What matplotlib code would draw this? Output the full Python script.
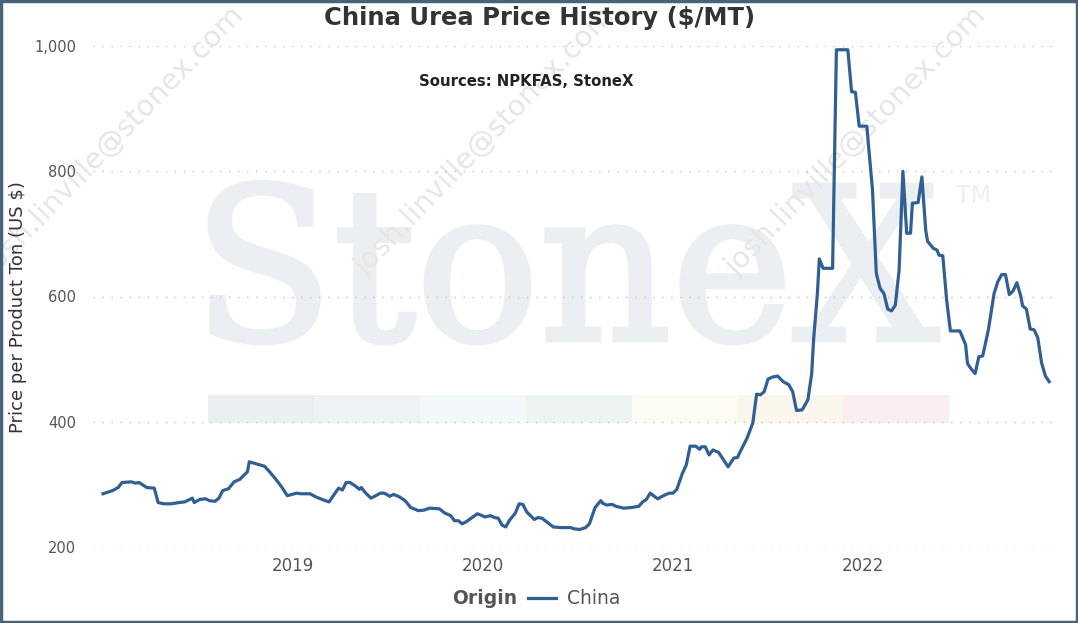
import matplotlib
matplotlib.use("Agg")
import matplotlib.pyplot as plt
from matplotlib.textpath import TextPath
from matplotlib.font_manager import FontProperties
from matplotlib.patches import PathPatch, Rectangle
from matplotlib.lines import Line2D
from matplotlib.path import Path
from matplotlib.ticker import FuncFormatter

# ---------------- data (weekly) ----------------
years = [
    2018.00, 2018.03, 2018.05, 2018.08, 2018.10, 2018.15, 2018.17, 2018.19, 2018.23, 2018.27,
    2018.29, 2018.32, 2018.36, 2018.40, 2018.43, 2018.47, 2018.48, 2018.51, 2018.54, 2018.56,
    2018.59, 2018.61, 2018.63, 2018.66, 2018.69, 2018.72, 2018.76, 2018.77, 2018.84, 2018.85,
    2018.88, 2018.91, 2018.94, 2018.97, 2019.02, 2019.04, 2019.09, 2019.12, 2019.17, 2019.19,
    2019.21, 2019.24, 2019.26, 2019.28, 2019.30, 2019.33, 2019.35, 2019.36, 2019.38, 2019.41,
    2019.43, 2019.46, 2019.48, 2019.51, 2019.53, 2019.56, 2019.59, 2019.62, 2019.66, 2019.69,
    2019.72, 2019.77, 2019.80, 2019.83, 2019.85, 2019.87, 2019.89, 2019.91, 2019.97, 2019.98,
    2020.01, 2020.04, 2020.06, 2020.08, 2020.10, 2020.12, 2020.14, 2020.17, 2020.19, 2020.21,
    2020.23, 2020.27, 2020.29, 2020.31, 2020.34, 2020.37, 2020.41, 2020.46, 2020.48, 2020.51,
    2020.54, 2020.56, 2020.59, 2020.62, 2020.63, 2020.65, 2020.68, 2020.70, 2020.74, 2020.78,
    2020.82, 2020.84, 2020.86, 2020.88, 2020.91, 2020.92, 2020.95, 2020.98, 2021.00, 2021.02,
    2021.05, 2021.07, 2021.09, 2021.12, 2021.14, 2021.15, 2021.17, 2021.19, 2021.21, 2021.24,
    2021.26, 2021.29, 2021.32, 2021.34, 2021.35, 2021.39, 2021.42, 2021.44, 2021.46, 2021.48,
    2021.50, 2021.52, 2021.55, 2021.58, 2021.61, 2021.63, 2021.65, 2021.68, 2021.71, 2021.73,
    2021.74, 2021.76, 2021.77, 2021.79, 2021.84, 2021.86, 2021.92, 2021.94, 2021.96, 2021.98,
    2022.02, 2022.05, 2022.07, 2022.09, 2022.11, 2022.13, 2022.15, 2022.17, 2022.19, 2022.21,
    2022.23, 2022.25, 2022.26, 2022.29, 2022.31, 2022.33, 2022.34, 2022.37, 2022.39, 2022.40,
    2022.42, 2022.44, 2022.46, 2022.51, 2022.54, 2022.55, 2022.57, 2022.59, 2022.61, 2022.63,
    2022.66, 2022.69, 2022.71, 2022.73, 2022.75, 2022.77, 2022.79, 2022.81, 2022.83, 2022.84,
    2022.86, 2022.88, 2022.90, 2022.92, 2022.94, 2022.96, 2022.98,
]
china_price = [
    285, 288, 290, 295, 303, 304, 302, 303, 295, 294,
    271, 269, 269, 271, 272, 278, 271, 276, 277, 274,
    273, 278, 290, 293, 304, 308, 320, 336, 330, 329,
    319, 308, 296, 282, 286, 285, 285, 280, 274, 272,
    281, 294, 291, 303, 303, 297, 292, 295, 287, 278,
    281, 286, 286, 281, 284, 280, 274, 263, 258, 259,
    262, 261, 254, 250, 242, 242, 237, 240, 253, 252,
    248, 250, 247, 246, 235, 232, 243, 254, 269, 268,
    256, 244, 247, 246, 239, 232, 231, 231, 229, 228,
    231, 237, 263, 274, 270, 267, 268, 265, 262, 263,
    265, 272, 276, 286, 279, 277, 282, 286, 286, 292,
    318, 331, 361, 361, 356, 360, 360, 347, 355, 351,
    342, 328, 342, 343, 350, 374, 398, 444, 443, 448,
    468, 471, 473, 464, 459, 448, 418, 419, 435, 477,
    531, 605, 660, 645, 645, 994, 994, 927, 926, 872,
    872, 770, 637, 613, 605, 580, 577, 586, 642, 800,
    701, 701, 749, 750, 791, 706, 688, 677, 674, 666,
    665, 595, 545, 545, 523, 493, 484, 477, 504, 505,
    547, 605, 624, 635, 635, 603, 609, 622, 601, 585,
    580, 548, 547, 534, 494, 473, 464,
]
year_ticks = [2019, 2020, 2021, 2022]
price_ticks = [200, 400, 600, 800, 1000]

W, H = 1078, 623
LINE_COLOR = "#305f94"
WM_COLOR = "#eceff2"


def fx(px):
    return px / W


def fy(py):
    return 1 - py / H


fig = plt.figure(figsize=(W / 100, H / 100), dpi=100)
fig.patch.set_facecolor("white")
ax = fig.add_axes([fx(93), fy(547), (1058 - 93) / W, (547 - 46) / H])
ax.set_facecolor("none")

# ---------- watermark: big StoneX logo ----------
serif = FontProperties(family="DejaVu Serif")
tp = TextPath((0, 0), "StoneX", size=1, prop=serif)
cap = TextPath((0, 0), "X", size=1, prop=serif).get_extents().ymax
ext = tp.get_extents()
sx = (938 - 210) / (ext.xmax - ext.xmin)
sy = (340 - 185) / cap
verts = tp.vertices.copy()
verts[:, 0] = fx(210 + (verts[:, 0] - ext.xmin) * sx)
verts[:, 1] = fy(340 - verts[:, 1] * sy)
logo = PathPatch(Path(verts, tp.codes), facecolor=WM_COLOR, edgecolor=WM_COLOR, lw=3.5,
                 joinstyle="miter", transform=fig.transFigure, clip_on=False, zorder=0.2)
ax.add_patch(logo)
ax.text(fx(956), fy(203), "TM", transform=fig.transFigure, fontsize=17,
        color=WM_COLOR, ha="left", va="baseline", zorder=0.2)

# colour band under the logo
band_colors = ["#eceff2", "#eef2f5", "#f2f7fa", "#edf3f1", "#fcfbf2", "#fbf6eb", "#faeef0"]
for i, c in enumerate(band_colors):
    ax.add_patch(Rectangle((fx(208 + i * 105.9), fy(423)), 105.9 / W, 28 / H,
                           facecolor=c, edgecolor="none", transform=fig.transFigure,
                           clip_on=False, zorder=0.2))

# diagonal e-mail watermark (the left copy runs off the picture, as in the original)
for cx in [114, 485, 856]:
    ax.text(fx(cx), fy(141), "josh.linville@stonex.com", transform=fig.transFigure,
            fontsize=21, color="#e6e6e6", rotation=46, rotation_mode="anchor",
            ha="center", va="center", zorder=0.3, clip_on=False)

# ---------- the series ----------
ax.plot(years, china_price, color=LINE_COLOR, lw=2.3, zorder=3, solid_joinstyle="round")

ax.set_xlim(2019 - 200 / 190, 2019 + 765 / 190)
ax.set_ylim(200, 1000)
ax.set_xticks(year_ticks)
ax.set_xticklabels([str(y) for y in year_ticks])
ax.set_yticks(price_ticks)
ax.yaxis.set_major_formatter(FuncFormatter(lambda v, p: f"{int(v):,}"))
ax.tick_params(axis="both", length=0, colors="#555555")
ax.tick_params(axis="x", labelsize=12, pad=7)
ax.tick_params(axis="y", labelsize=10.5, pad=12)
ax.grid(axis="y", color="#c4c4c4", lw=1, linestyle=(0, (1, 5.5)))
ax.set_axisbelow(True)
for s in ax.spines.values():
    s.set_visible(False)

fig.text(fx(18), fy(307), "Price per Product Ton (US $)", rotation=90, fontsize=13,
         color="#333333", ha="center", va="center")

# ---------- titles ----------
fig.text(fx(540), fy(18), "China Urea Price History ($/MT)", fontsize=17.5,
         fontweight="bold", color="#333333", ha="center", va="center")
fig.text(fx(526), fy(82), "Sources: NPKFAS, StoneX", fontsize=10.7,
         fontweight="bold", color="#222222", ha="center", va="center")

# ---------- legend ----------
fig.text(fx(452), fy(598), "Origin", fontsize=13.5, fontweight="bold",
         color="#555555", ha="left", va="center")
fig.add_artist(Line2D([fx(528), fx(556)], [fy(598), fy(598)], color=LINE_COLOR, lw=2.3,
                      transform=fig.transFigure))
fig.text(fx(567), fy(598), "China", fontsize=13.5, color="#555555", ha="left", va="center")

# frame around the picture
fig.add_artist(Rectangle((0.001, 0.002), 0.998, 0.996, transform=fig.transFigure,
                         facecolor="none", edgecolor="#46637c", lw=2.5))

fig.savefig("out.png", dpi=100)
